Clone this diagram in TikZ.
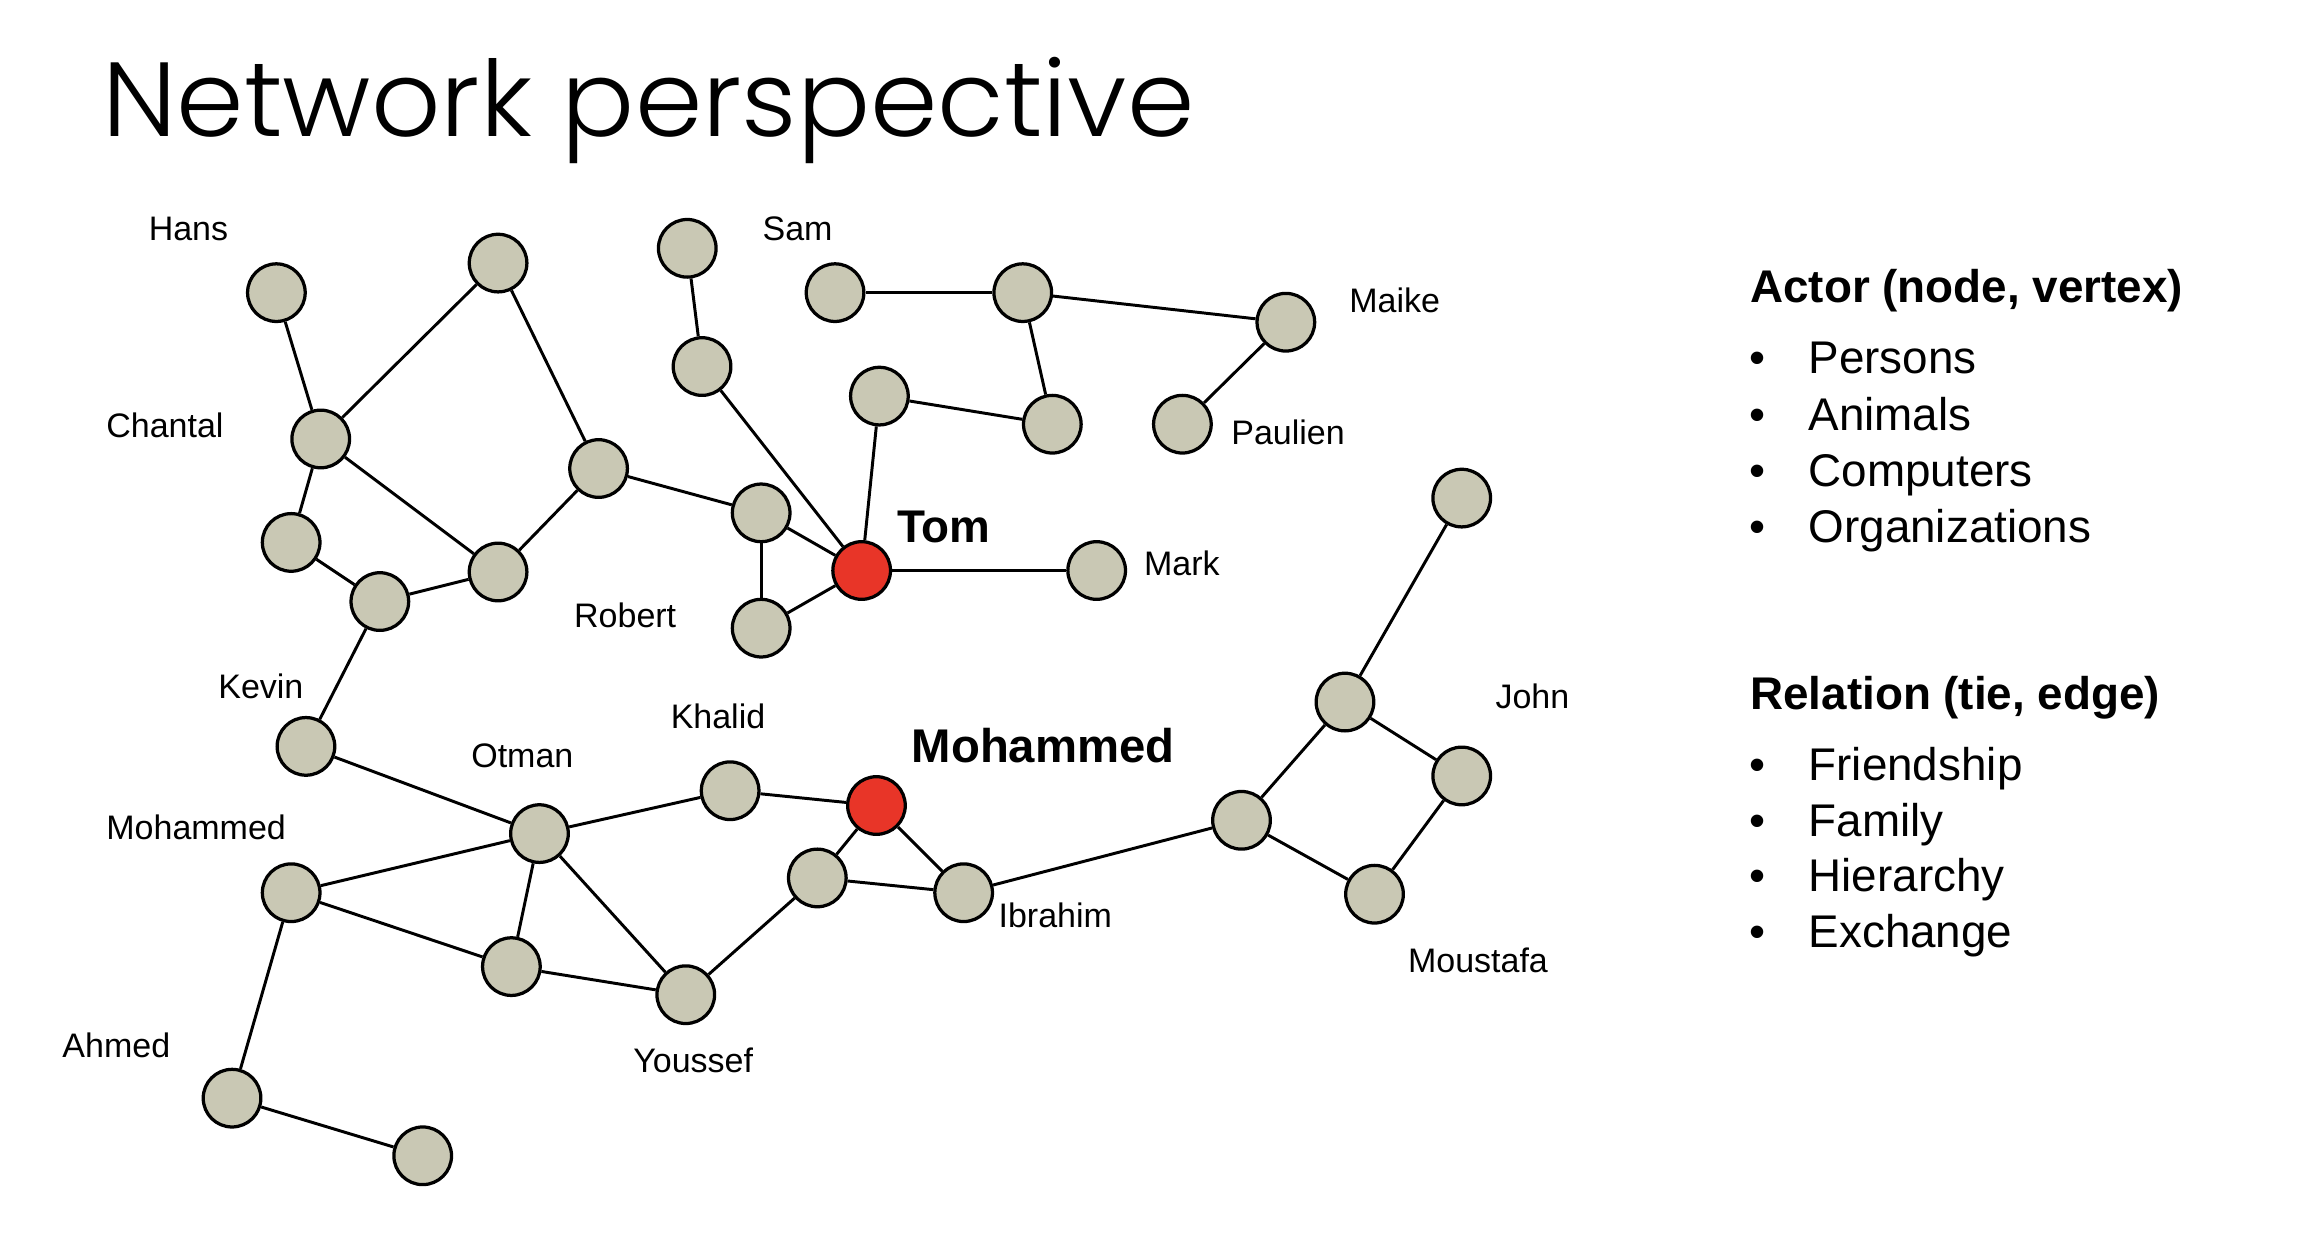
\documentclass[tikz,border=0pt]{standalone}
\usepackage{fontspec}
\usepackage{graphicx}
\setmainfont{Liberation Sans}
\IfFontExistsTF{Poppins Light}{\newfontfamily\titlefont{Poppins Light}}{\newfontfamily\titlefont{Poppins}}
\definecolor{nodegray}{RGB}{201,200,180}
\definecolor{hubred}{RGB}{232,53,40}
\tikzset{
  actor/.style={circle, draw=black, line width=2.2pt, fill=nodegray, minimum size=39pt, inner sep=0pt},
  hub/.style={actor, fill=hubred},
  tie/.style={line width=2pt, black},
  lbl/.style={font=\fontsize{23}{27}\selectfont, inner sep=0pt, anchor=base},
  boldlbl/.style={font=\fontsize{31}{36}\selectfont\bfseries, inner sep=0pt, anchor=base},
  head/.style={font=\fontsize{31}{36}\selectfont\bfseries, inner sep=0pt, anchor=base west},
  item/.style={font=\fontsize{31}{36}\selectfont, inner sep=0pt, anchor=base west},
  bul/.style={font=\fontsize{31}{36}\selectfont, inner sep=0pt, anchor=base}
}
\begin{document}
\begin{tikzpicture}[x=1pt,y=-1pt]
\useasboundingbox (0,0) rectangle (1567,833.6);
% title
\node[inner sep=0pt, anchor=south west] (title) at (69,111) {\resizebox*{739pt}{72pt}{\titlefont Network perspective}};

% nodes
\node[actor] (hans) at (187,198) {};
\node[actor] (topc) at (337,178) {};
\node[actor] (chantal) at (217,297) {};
\node[actor] (c1) at (197,367) {};
\node[actor] (c2) at (257,407) {};
\node[actor] (c3) at (337,387) {};
\node[actor] (c4) at (405,317) {};
\node[actor] (kevin) at (207,505) {};
\node[actor] (s1) at (465,168) {};
\node[actor] (s2) at (475,248) {};
\node[actor] (robert) at (515,347) {};
\node[actor] (r2) at (515,425) {};
\node[hub] (tom) at (583,386) {};
\node[actor] (t1) at (595,268) {};
\node[actor] (sam) at (565,198) {};
\node[actor] (sm) at (692,198) {};
\node[actor] (t2) at (712,287) {};
\node[actor] (maike) at (870,218) {};
\node[actor] (paulien) at (800,287) {};
\node[actor] (mark) at (742,386) {};
\node[actor] (j0) at (989,337) {};
\node[actor] (j1) at (910,475) {};
\node[actor] (john) at (989,525) {};
\node[actor] (j2) at (840,555) {};
\node[actor] (moustafa) at (930,605) {};
\node[actor] (khalid) at (494,535) {};
\node[hub] (moh) at (593,545) {};
\node[actor] (m1) at (553,594) {};
\node[actor] (ibrahim) at (652,604) {};
\node[actor] (otman) at (365,564) {};
\node[actor] (mohl) at (197,604) {};
\node[actor] (o1) at (346,654) {};
\node[actor] (youssef) at (464,673) {};
\node[actor] (ahmed) at (157,743) {};
\node[actor] (a1) at (286,782) {};

% ties
\draw[tie] (hans) -- (chantal);
\draw[tie] (topc) -- (chantal);
\draw[tie] (topc) -- (c4);
\draw[tie] (chantal) -- (c1);
\draw[tie] (chantal) -- (c3);
\draw[tie] (c1) -- (c2);
\draw[tie] (c2) -- (c3);
\draw[tie] (c3) -- (c4);
\draw[tie] (c4) -- (robert);
\draw[tie] (c2) -- (kevin);
\draw[tie] (s1) -- (s2);
\draw[tie] (s2) -- (tom);
\draw[tie] (robert) -- (tom);
\draw[tie] (robert) -- (r2);
\draw[tie] (r2) -- (tom);
\draw[tie] (tom) -- (t1);
\draw[tie] (t1) -- (t2);
\draw[tie] (sam) -- (sm);
\draw[tie] (sm) -- (t2);
\draw[tie] (sm) -- (maike);
\draw[tie] (maike) -- (paulien);
\draw[tie] (tom) -- (mark);
\draw[tie] (kevin) -- (otman);
\draw[tie] (otman) -- (khalid);
\draw[tie] (khalid) -- (moh);
\draw[tie] (moh) -- (m1);
\draw[tie] (moh) -- (ibrahim);
\draw[tie] (m1) -- (ibrahim);
\draw[tie] (m1) -- (youssef);
\draw[tie] (otman) -- (mohl);
\draw[tie] (otman) -- (o1);
\draw[tie] (otman) -- (youssef);
\draw[tie] (mohl) -- (o1);
\draw[tie] (o1) -- (youssef);
\draw[tie] (mohl) -- (ahmed);
\draw[tie] (ahmed) -- (a1);
\draw[tie] (ibrahim) -- (j2);
\draw[tie] (j2) -- (j1);
\draw[tie] (j1) -- (j0);
\draw[tie] (j1) -- (john);
\draw[tie] (john) -- (moustafa);
\draw[tie] (j2) -- (moustafa);

% labels
\node[lbl] (lhans) at (127.5,162.5) {Hans};
\node[lbl] (lsam) at (539.6,162.5) {Sam};
\node[lbl] (lchantal) at (111.6,295.7) {Chantal};
\node[lbl] (lmaike) at (943.6,211.5) {Maike};
\node[lbl] (lpaulien) at (871.5,300.6) {Paulien};
\node[boldlbl] (ltom) at (638.5,367) {Tom};
\node[lbl] (lmark) at (799.6,389.7) {Mark};
\node[lbl] (lrobert) at (423,424.7) {Robert};
\node[lbl] (lkevin) at (176.5,472.8) {Kevin};
\node[lbl] (ljohn) at (1036.8,479.1) {John};
\node[lbl] (lkhalid) at (485.8,493.2) {Khalid};
\node[lbl] (lotman) at (353.4,519.2) {Otman};
\node[boldlbl, font=\fontsize{32}{36}\selectfont\bfseries] (lmoh) at (705.8,516) {Mohammed};
\node[lbl] (lmohl) at (132.7,567.8) {Mohammed};
\node[lbl] (librahim) at (714,627.7) {Ibrahim};
\node[lbl] (lmoustafa) at (1000,657.7) {Moustafa};
\node[lbl] (lahmed) at (78.7,715.5) {Ahmed};
\node[lbl] (lyoussef) at (469,725.6) {Youssef};

% right-hand legend
\node[head] (actor) at (1184,205) {Actor (node, vertex)};
\foreach \t/\y [count=\i] in {Persons/253,Animals/291,Computers/329,Organizations/367}{
  \node[bul] (ab\i) at (1189,\y) {•};
  \node[item] (ai\i) at (1223.5,\y) {\t};
}
\node[head] (relation) at (1184,480) {Relation (tie, edge)};
\foreach \t/\y [count=\i] in {Friendship/528,Family/566,Hierarchy/603.5,Exchange/641}{
  \node[bul] (rb\i) at (1189,\y) {•};
  \node[item] (ri\i) at (1223.5,\y) {\t};
}
\end{tikzpicture}
\end{document}
